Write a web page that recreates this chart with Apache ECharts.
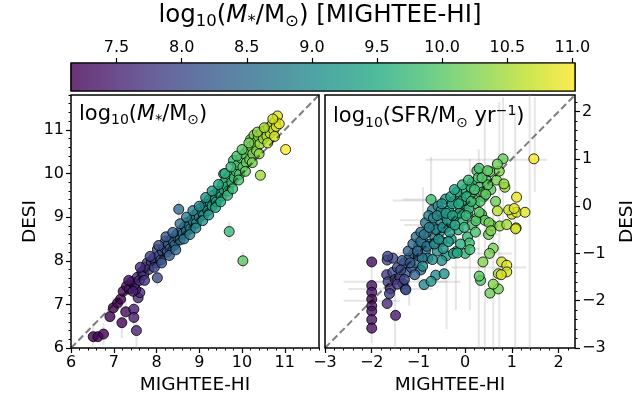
<!DOCTYPE html>
<html>
<head>
<meta charset="utf-8">
<script src="https://cdn.jsdelivr.net/npm/echarts@6/dist/echarts.min.js"></script>
<style>
  html, body { margin: 0; padding: 0; background: #fff; }
  #chart { width: 640px; height: 407px; }
</style>
</head>
<body>
<div id="chart"></div>
<script>
// ---- Stellar mass: MIGHTEE-HI vs DESI (log10 M*/Msun) ----
const massHI = [
  6.52, 6.63, 6.76, 6.91, 6.99, 7.09, 7.16, 7.19, 7.28, 7.47,
  7.47, 7.53, 7.57, 7.61, 7.51, 7.22, 7.30, 7.36, 7.42, 7.48,
  7.55, 7.60, 7.66, 7.70, 7.75, 7.78, 7.82, 7.88, 7.92, 7.98,
  8.02, 8.02, 8.06, 8.10, 8.14, 8.18, 8.21, 8.25, 8.28, 8.32,
  8.36, 8.40, 8.43, 8.47, 8.50, 8.52, 8.55, 8.58, 8.62, 8.66,
  8.70, 8.73, 8.76, 8.80, 8.83, 8.86, 8.90, 8.93, 8.96, 9.00,
  9.03, 9.06, 9.10, 9.13, 9.16, 9.20, 9.23, 9.26, 9.30, 9.33,
  9.37, 9.40, 9.44, 9.48, 9.52, 9.55, 9.57, 9.58, 9.62, 9.65,
  9.68, 9.70, 9.72, 9.76, 9.80, 9.82, 9.86, 9.90, 9.94, 9.98,
  10.02, 10.02, 10.06, 10.10, 10.14, 10.18, 10.20, 10.22, 10.25, 10.28,
  10.30, 10.34, 10.38, 10.43, 10.42, 10.46, 10.50, 10.55, 10.58, 10.62,
  10.66, 10.70, 10.74, 10.78, 10.80, 10.83, 10.87, 11.02,
  7.35, 7.45, 7.62, 7.72, 7.85, 7.95, 8.05, 8.12, 8.22, 8.30,
  8.38, 8.45, 8.55, 8.64, 8.70, 8.78, 8.85, 8.92, 9.00, 9.08,
  9.15, 9.22, 9.30, 9.38, 9.45, 9.50, 9.60, 9.66, 9.74, 9.78,
  9.88, 9.92, 10.00, 10.08, 10.16, 10.24, 10.36, 10.40, 10.52, 10.60,
  10.72, 10.76
];
const massDESI = [
  6.26, 6.26, 6.32, 6.72, 6.92, 7.03, 7.12, 6.58, 6.83, 6.89,
  6.70, 6.40, 7.15, 7.27, 7.34, 7.30, 7.42, 7.35, 7.52, 7.45,
  7.62, 7.55, 7.74, 7.68, 7.85, 7.95, 7.80, 7.98, 8.05, 7.95,
  7.61, 8.26, 8.12, 8.02, 8.22, 8.30, 8.45, 8.20, 8.38, 8.28,
  8.50, 8.42, 8.36, 8.60, 8.52, 9.18, 8.48, 8.70, 8.62, 8.78,
  8.68, 8.88, 8.80, 8.74, 8.95, 8.90, 9.05, 8.86, 9.10, 9.00,
  9.20, 9.12, 9.05, 9.30, 9.22, 9.15, 9.40, 9.32, 9.25, 9.50,
  9.40, 9.35, 9.60, 9.52, 9.48, 9.75, 9.99, 9.62, 9.85, 9.70,
  9.60, 8.67, 9.95, 9.80, 10.30, 9.90, 10.05, 10.20, 9.98, 10.35,
  8.00, 10.15, 10.45, 10.25, 10.55, 10.32, 10.78, 10.62, 10.45, 10.88,
  10.70, 10.52, 10.85, 9.96, 10.68, 10.95, 10.80, 11.00, 10.86, 11.05,
  10.92, 11.12, 11.00, 11.20, 11.08, 11.32, 11.14, 10.55,
  7.55, 7.30, 7.85, 7.55, 8.10, 7.85, 8.35, 7.95, 8.55, 8.12,
  8.65, 8.25, 8.85, 8.50, 9.00, 8.60, 9.15, 8.75, 9.25, 8.92,
  9.45, 9.05, 9.60, 9.22, 9.75, 9.35, 10.00, 9.50, 10.15, 9.65,
  10.40, 9.85, 10.55, 10.05, 10.70, 10.25, 10.95, 10.45, 11.05, 10.70,
  11.25, 10.85
];
// error bars on the mass panel: [x, y, xerr, yerr]
const massErrBars = [
  [6.52, 6.26, 0, 0.30], [6.76, 6.32, 0, 0.25], [7.19, 6.58, 0, 0.35],
  [7.53, 6.40, 0, 0.45], [7.28, 6.83, 0, 0.30], [7.47, 6.70, 0, 0.30],
  [6.99, 6.92, 0, 0.25], [8.52, 9.18, 0, 0.20], [9.70, 8.67, 0, 0.22],
  [10.02, 8.00, 0, 0.20], [8.02, 7.61, 0, 0.20], [9.05, 9.20, 0, 0.15],
  [9.60, 9.90, 0, 0.15]
];

// ---- Star formation rate: MIGHTEE-HI vs DESI (log10 SFR / Msun yr^-1) ----
const sfrHI = [
  -2.00, -2.00, -2.00, -2.00, -2.00, -2.00, -2.00, -2.00, -1.49, -1.67,
  -1.67, -1.68, -1.65, -1.60, -1.62, -1.55, -1.50, -1.45, -1.40, -1.33,
  -1.28, -1.30, -1.25, -1.20, -1.15, -1.10, -1.05, -1.00, -1.00, -0.95,
  -0.90, -0.88, -0.85, -0.80, -0.80, -0.75, -0.73, -0.70, -0.70, -0.65,
  -0.63, -0.60, -0.55, -0.55, -0.50, -0.45, -0.45, -0.40, -0.40, -0.35,
  -0.30, -0.30, -0.25, -0.20, -0.19, -0.15, -0.10, -0.10, -0.05, 0.00,
  0.00, 0.05, 0.05, 0.09, 0.10, 0.15, 0.15, 0.20, 0.25, 0.25,
  0.30, 0.33, 0.35, 0.38, 0.40, 0.45, 0.50, 0.53, 0.53, 0.55,
  0.58, 0.60, 0.65, 0.67, 0.71, 0.71, 0.73, 0.74, 0.78, 0.81,
  0.85, 0.89, 0.89, 0.89, 1.00, 1.09, 1.10, 1.10, 1.28, 1.47,
  -1.35, -1.22, -1.12, -1.05, -0.95, -0.92, -0.85, -0.78, -0.68, -0.62,
  -0.58, -0.52, -0.48, -0.42, -0.38, -0.33, -0.28, -0.22, -0.18, -0.12,
  -0.08, -0.02, 0.03, 0.08, 0.12, 0.18, 0.22, 0.28, 0.32, 0.38,
  0.42, 0.48, -0.50, -0.25, -0.10, 0.00,
  -1.55, -1.45, -1.38, -1.30, -1.18, -1.08, -1.02, -0.95, -0.88, -0.82,
  -0.77, -0.66, -0.60, -0.57, -0.50, -0.47, -0.41, -0.36, -0.31, -0.27,
  -0.17, -0.23, -0.14, -0.06, 0.02, 0.07, 0.13, 0.20, 0.23, 0.30,
  0.30, 0.36, 0.44, 0.48, 0.51, 0.52, 0.55, 0.60, 0.69, 0.69,
  0.77, 0.83, 0.93, 1.05, 1.08, 0.10, 0.30, -0.91, -0.70, -0.73,
  -1.27, -1.66
];
const sfrDESI = [
  -1.18, -1.68, -1.82, -1.97, -2.11, -2.22, -2.40, -2.58, -2.31, -2.06,
  -1.14, -1.45, -1.60, -1.75, -1.85, -1.40, -1.55, -1.30, -1.50, -1.64,
  -1.75, -1.20, -1.40, -1.10, -1.30, -1.00, -1.20, -0.85, -1.05, -1.35,
  -0.75, -1.66, -0.95, -1.10, -0.55, -0.80, 0.14, -0.08, -0.40, -0.65,
  -1.46, -0.95, -0.30, -0.55, -0.75, -1.43, -0.20, -0.45, -1.05, -0.10,
  -0.35, -0.70, 0.10, -0.20, -0.96, -0.50, 0.20, -0.05, -0.30, 0.35,
  0.05, -0.65, -0.15, -0.78, 0.25, 0.50, -0.40, 0.05, 0.75, -0.25,
  0.40, -1.57, -0.17, -1.18, 0.20, 0.55, -0.60, 0.73, -1.84, 0.35,
  -0.41, -0.89, 0.10, 0.55, -1.43, -1.75, 0.74, -0.42, -1.18, 1.00,
  0.40, -0.39, -1.25, -1.39, -0.17, -0.46, 0.19, -0.13, -0.13, 1.00,
  -1.15, -0.95, -0.80, -0.65, -0.55, -1.10, -0.35, -0.20, -0.25, -0.50,
  0.00, -0.10, -0.45, 0.15, -0.30, -0.55, 0.05, -0.40, 0.30, -0.15,
  0.10, -0.45, 0.20, -0.05, 0.40, 0.15, -0.55, 0.60, 0.10, 0.30,
  -0.30, 0.45, -1.15, -1.00, -0.80, -1.00,
  -1.10, -1.65, -1.35, -1.55, -1.20, -1.45, -0.95, -0.75, -0.60, -0.85,
  -0.45, -0.80, -0.20, -0.70, 0.05, -0.90, -0.15, -0.75, 0.20, -0.20,
  -0.99, 0.35, 0.05, 0.45, -0.20, 0.55, 0.10, 0.35, -0.31, -0.13,
  0.80, 0.60, 0.25, 0.75, -0.35, -1.00, -0.52, -1.65, 0.89, -0.10,
  -1.45, 0.47, -0.08, -0.05, -0.48, -0.92, -1.48, -1.27, -1.13, -1.59,
  -1.77, -1.06
];
// MIGHTEE-HI stellar mass of each galaxy in the SFR panel (sets its colour)
const sfrMass = [
  7.25, 7.30, 7.35, 7.20, 7.40, 7.30, 7.35, 7.30, 7.40, 7.60,
  8.00, 7.80, 7.90, 7.70, 7.85, 8.05, 7.75, 8.10, 7.95, 7.60,
  8.30, 8.20, 8.25, 8.35, 8.10, 8.40, 8.50, 8.60, 8.30, 8.55,
  8.70, 8.90, 8.60, 8.75, 8.50, 8.80, 9.80, 8.70, 8.65, 8.90,
  9.00, 9.05, 8.90, 9.10, 9.00, 9.10, 9.20, 9.15, 9.20, 9.30,
  9.25, 9.35, 9.40, 9.30, 9.50, 9.55, 9.55, 9.45, 9.60, 9.65,
  9.60, 9.70, 9.75, 9.80, 9.70, 9.75, 9.85, 9.80, 9.90, 9.95,
  9.85, 9.95, 10.00, 10.30, 9.95, 10.00, 10.10, 10.10, 10.15, 10.05,
  10.20, 10.25, 10.15, 10.20, 10.50, 10.20, 10.30, 10.40, 10.70, 10.10,
  10.45, 10.50, 10.85, 10.75, 10.75, 10.70, 10.90, 10.80, 10.85, 11.00,
  8.15, 8.40, 8.45, 8.55, 8.65, 8.65, 8.75, 8.85, 8.95, 9.00,
  9.10, 9.05, 9.10, 9.20, 9.25, 9.30, 9.35, 9.40, 9.45, 9.50,
  9.50, 9.65, 9.60, 9.70, 9.75, 9.85, 9.90, 9.90, 9.95, 10.00,
  10.05, 10.05, 9.05, 9.35, 9.55, 9.65,
  8.00, 7.80, 8.05, 8.00, 8.30, 8.35, 8.45, 8.60, 8.70, 8.65,
  8.80, 8.95, 8.90, 9.05, 9.10, 9.15, 9.20, 9.30, 9.35, 9.40,
  9.50, 9.45, 9.55, 9.60, 9.70, 9.70, 9.80, 9.85, 9.95, 10.05,
  9.90, 9.95, 10.05, 10.05, 10.20, 10.25, 10.30, 10.30, 10.15, 10.60,
  10.80, 10.40, 10.70, 10.85, 10.80, 9.80, 10.05, 8.95, 9.05, 9.10,
  8.10, 7.95
];
// error bars on the SFR panel: [x, y, xerr, yerr]
const sfrErrBars = [
  [0.29, -0.90, 0, 2.10], [0.42, -0.50, 0, 2.50], [0.73, -0.40, 0, 2.60],
  [1.07, -0.50, 0, 2.50], [1.38, -0.30, 0, 2.70], [0.81, 0.90, 0, 1.40],
  [1.49, 1.30, 0, 1.00], [-2.00, -2.00, 0.60, 0.90], [-1.60, -1.75, 0.90, 0.30],
  [-1.90, -1.60, 0.70, 0], [-1.50, -2.30, 0, 0.70], [-0.73, 0.14, 0.60, 0.90],
  [-0.50, -0.30, 0.90, 0.50], [0.45, 0.98, 1.30, 0], [-0.50, 0.12, 1.05, 0],
  [0.50, -1.30, 0.80, 0], [-1.00, -1.00, 0.60, 0.60], [-1.20, -1.60, 0.80, 0.50],
  [-0.20, -0.90, 0.50, 1.30], [0.10, -0.60, 0.60, 1.60], [0.60, -1.00, 0.40, 2.00],
  [-0.90, -0.40, 0.40, 0.80], [-0.40, -1.60, 0.30, 1.00]
];

// ---- Axis ranges and tick labels ----
const massRange = [6, 11.8];
const sfrRange = [-3, 2.35];
const colorRange = [7.15, 11.02];
const massTicks = [6, 7, 8, 9, 10, 11];
const sfrTicks = [-3, -2, -1, 0, 1, 2];
const colorTicks = [7.5, 8.0, 8.5, 9.0, 9.5, 10.0, 10.5, 11.0];

const viridis = ['#440154', '#482475', '#414487', '#355f8d', '#2a788e',
                 '#21918c', '#22a884', '#44bf70', '#7ad151', '#bddf26', '#fde725'];

function minorTicks(range, step) {
  const out = [];
  const start = Math.ceil(range[0] / step - 1e-9);
  for (let k = start; k * step <= range[1] + 1e-9; k++) out.push(+(k * step).toFixed(4));
  return out;
}

const FONT = 'DejaVu Sans';
const minus = v => String(v).replace('-', '\u2212');

function majorAxis(gridIndex, range, ticks, position, extra) {
  return Object.assign({
    type: 'value', gridIndex, position, min: range[0], max: range[1],
    axisLine: { show: false, onZero: false },
    splitLine: { show: false },
    axisTick: { show: true, inside: false, length: 5, customValues: ticks,
                lineStyle: { color: '#000', width: 1.2 } },
    axisLabel: { show: true, customValues: ticks, formatter: minus, margin: 7,
                 color: '#000', fontSize: 16, fontFamily: FONT }
  }, extra || {});
}
function minorAxis(gridIndex, range, position) {
  return {
    type: 'value', gridIndex, position, min: range[0], max: range[1],
    axisLine: { show: false, onZero: false }, splitLine: { show: false },
    axisTick: { show: true, length: 2.5, customValues: minorTicks(range, 0.2),
                lineStyle: { color: '#000', width: 1 } },
    axisLabel: { show: false }
  };
}
const nameStyle = { color: '#000', fontSize: 18.5, fontFamily: FONT };

function errRender(params, api) {
  const x = api.value(0), y = api.value(1), dx = api.value(2), dy = api.value(3);
  const style = { stroke: 'rgba(170,170,170,0.3)', lineWidth: 2 };
  const kids = [];
  if (dy > 0) {
    const a = api.coord([x, y - dy]), b = api.coord([x, y + dy]);
    kids.push({ type: 'line', shape: { x1: a[0], y1: a[1], x2: b[0], y2: b[1] }, style });
  }
  if (dx > 0) {
    const a = api.coord([x - dx, y]), b = api.coord([x + dx, y]);
    kids.push({ type: 'line', shape: { x1: a[0], y1: a[1], x2: b[0], y2: b[1] }, style });
  }
  return { type: 'group', children: kids };
}

const cbGradient = new echarts.graphic.LinearGradient(0, 0, 1, 0,
  viridis.map((c, i) => ({ offset: i / (viridis.length - 1), color: echarts.color.modifyAlpha(c, 0.8) })));

const massPoints = massHI.map((m, i) => [m, massDESI[i], m]);
const sfrPoints = sfrHI.map((s, i) => [s, sfrDESI[i], sfrMass[i]]);

const pointStyle = { borderColor: '#000', borderWidth: 1, opacity: 0.8 };
const oneToOne = { color: 'rgba(0,0,0,0.5)', width: 2, type: [7, 3.5] };

const richBase = {
  n: { fontSize: 21, fontFamily: FONT, lineHeight: 26, color: '#000' },
  i: { fontSize: 21, fontFamily: FONT, fontStyle: 'italic', lineHeight: 26, color: '#000' },
  s: { fontSize: 14, fontFamily: FONT, lineHeight: 13, verticalAlign: 'bottom', color: '#000' },
  p: { fontSize: 14, fontFamily: FONT, lineHeight: 13, verticalAlign: 'top', color: '#000' }
};
const richTitle = {
  n: { fontSize: 24.5, fontFamily: FONT, lineHeight: 30, color: '#000' },
  i: { fontSize: 24.5, fontFamily: FONT, fontStyle: 'italic', lineHeight: 30, color: '#000' },
  s: { fontSize: 16.5, fontFamily: FONT, lineHeight: 14, verticalAlign: 'bottom', color: '#000' }
};

const chart = echarts.init(document.getElementById('chart'), null, { renderer: 'canvas' });
chart.setOption({
  animation: false,
  backgroundColor: '#fff',
  grid: [
    { left: 71, top: 95, width: 248, height: 253, show: true, borderColor: '#000', borderWidth: 1.5, backgroundColor: 'transparent', outerBoundsMode: 'none' },
    { left: 325, top: 95, width: 250, height: 253, show: true, borderColor: '#000', borderWidth: 1.5, backgroundColor: 'transparent', outerBoundsMode: 'none' },
    { left: 71, top: 63, width: 504, height: 28, show: true, borderColor: '#000', borderWidth: 1.2, backgroundColor: 'transparent', outerBoundsMode: 'none' }
  ],
  xAxis: [
    majorAxis(0, massRange, massTicks, 'bottom', { name: 'MIGHTEE-HI', nameLocation: 'middle', nameGap: 26, nameTextStyle: nameStyle }),
    minorAxis(0, massRange, 'bottom'),
    majorAxis(1, sfrRange, sfrTicks, 'bottom', { name: 'MIGHTEE-HI', nameLocation: 'middle', nameGap: 26, nameTextStyle: nameStyle }),
    minorAxis(1, sfrRange, 'bottom'),
    majorAxis(2, colorRange, colorTicks, 'top', {
      axisLabel: { show: true, customValues: colorTicks, formatter: v => v.toFixed(1), margin: 7,
                   color: '#000', fontSize: 16, fontFamily: FONT }
    })
  ],
  yAxis: [
    majorAxis(0, massRange, massTicks, 'left', { name: 'DESI', nameLocation: 'middle', nameGap: 30, nameRotate: 90, nameTextStyle: nameStyle }),
    minorAxis(0, massRange, 'left'),
    majorAxis(1, sfrRange, sfrTicks, 'right', { name: 'DESI', nameLocation: 'middle', nameGap: 43, nameRotate: 90, nameTextStyle: nameStyle }),
    minorAxis(1, sfrRange, 'right'),
    { type: 'value', gridIndex: 2, min: 0, max: 1, show: false }
  ],
  visualMap: {
    type: 'continuous', show: false, min: colorRange[0], max: colorRange[1],
    dimension: 2, seriesIndex: [1, 4], inRange: { color: viridis }
  },
  series: [
    { type: 'custom', xAxisIndex: 0, yAxisIndex: 0, data: massErrBars, renderItem: errRender, clip: true, silent: true, z: 1 },
    { type: 'scatter', xAxisIndex: 0, yAxisIndex: 0, data: massPoints, symbolSize: 10, itemStyle: pointStyle, z: 2, emphasis: { disabled: true } },
    { type: 'line', xAxisIndex: 0, yAxisIndex: 0, data: [[massRange[0], massRange[0]], [massRange[1], massRange[1]]],
      symbol: 'none', lineStyle: oneToOne, z: 3, silent: true },
    { type: 'custom', xAxisIndex: 2, yAxisIndex: 2, data: sfrErrBars, renderItem: errRender, clip: true, silent: true, z: 1 },
    { type: 'scatter', xAxisIndex: 2, yAxisIndex: 2, data: sfrPoints, symbolSize: 10, itemStyle: pointStyle, z: 2, emphasis: { disabled: true } },
    { type: 'line', xAxisIndex: 2, yAxisIndex: 2, data: [[sfrRange[0], sfrRange[0]], [sfrRange[1], sfrRange[1]]],
      symbol: 'none', lineStyle: oneToOne, z: 3, silent: true },
    { type: 'custom', xAxisIndex: 4, yAxisIndex: 4, data: [[colorRange[0], colorRange[1]]], silent: true, z: 1,
      renderItem: (params, api) => {
        const p0 = api.coord([api.value(0), 0]);
        const p1 = api.coord([api.value(1), 1]);
        return { type: 'rect', shape: { x: p0[0], y: p1[1], width: p1[0] - p0[0], height: p0[1] - p1[1] },
                 style: { fill: cbGradient, stroke: '#000', lineWidth: 1.2 } };
      } }
  ],
  graphic: [
    { type: 'text', left: 79, top: 104, z: 10,
      style: { text: '{n|log}{s|10}{n|(}{i|M}{s|*}{n|/M}{s|\u2299}{n|)}', rich: richBase } },
    { type: 'text', left: 333, top: 104, z: 10,
      style: { text: '{n|log}{s|10}{n|(SFR/M}{s|\u2299}{n| yr}{p|\u22121}{n|)}', rich: richBase } },
    { type: 'text', left: 'center', top: 3, z: 10,
      style: { text: '{n|log}{s|10}{n|(}{i|M}{s|*}{n|/M}{s|\u2299}{n|) [MIGHTEE-HI]}', rich: richTitle } }
  ]
});
</script>
</body>
</html>
